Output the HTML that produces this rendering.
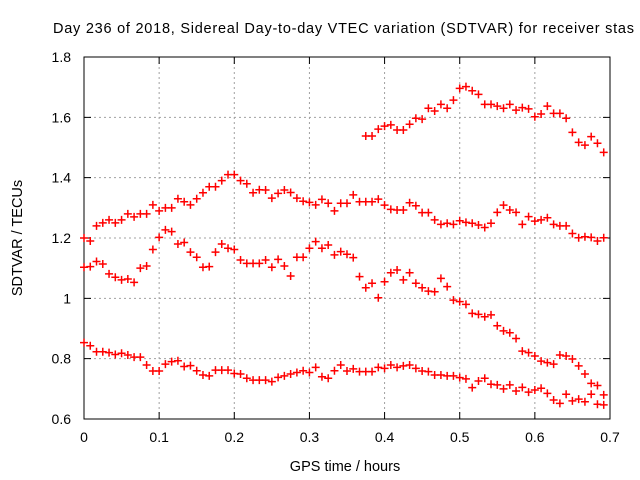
<!DOCTYPE html>
<html><head><meta charset="utf-8"><style>
body{margin:0;background:#fff;}
svg{display:block;font-family:"Liberation Sans",sans-serif;}
</style></head><body>
<svg id="chart" width="640" height="480" viewBox="0 0 640 480">
<rect width="640" height="480" fill="#fff"/>
<text x="53" y="33" font-size="14.5" textLength="581" lengthAdjust="spacing" fill="#000">Day 236 of 2018, Sidereal Day-to-day VTEC variation (SDTVAR) for receiver stas</text>
<text transform="translate(22,238) rotate(-90)" text-anchor="middle" font-size="14.5">SDTVAR / TECUs</text>
<text x="345" y="471" text-anchor="middle" font-size="14.5">GPS time / hours</text>
<g id="grid"></g><g id="axes"></g><g id="marks"></g>
</svg>
<script>
const xTicks=[0,0.1,0.2,0.3,0.4,0.5,0.6,0.7];
const yTicks=[0.6,0.8,1,1.2,1.4,1.6,1.8];
const yTickLabels=["0.6","0.8","1","1.2","1.4","1.6","1.8"];
const dt=0.008333;
const seriesA=[1.20,1.19,1.24,1.25,1.26,1.25,1.26,1.28,1.27,1.28,1.28,1.31,1.29,1.30,1.30,1.33,1.32,1.31,1.33,1.35,1.37,1.37,1.39,1.41,1.41,1.39,1.38,1.35,1.36,
1.359,1.332,1.348,1.359,1.351,1.332,1.322,1.318,1.310,1.328,1.315,1.290,1.315,1.315,
1.343,1.320,1.32,1.32,1.329,1.309,1.295,1.293,1.293,1.317,1.307,1.284,1.284,1.260,1.245,1.249,1.245,1.257,1.252,1.249,1.243,1.235,1.249,1.285,1.309,1.293,1.285,1.245,1.271,1.256,1.260,1.267,1.245,1.240,1.240,1.215,1.201,1.204,1.202,1.190,1.201];
const seriesTopStart=45;
const seriesTop=[1.538,1.538,1.561,1.571,1.575,1.558,1.558,1.577,1.597,1.594,1.630,1.621,1.643,1.630,1.657,1.696,1.702,1.688,1.676,1.643,1.643,1.637,1.630,1.643,1.624,1.632,1.628,1.602,1.611,1.637,1.613,1.613,1.597,1.550,1.517,1.508,1.536,1.514,1.484];
const seriesB=[1.103,1.105,1.122,1.114,1.081,1.070,1.061,1.064,1.053,1.100,1.107,1.162,1.202,1.227,1.221,1.180,1.185,1.153,1.136,1.103,1.105,1.153,1.180,1.166,1.162,1.127,1.116,1.116,1.116,
1.127,1.103,1.129,1.107,1.074,1.136,1.136,1.166,1.188,1.166,1.177,1.144,1.155,1.146,
1.135,1.072,1.035,1.050,1.002,1.055,1.085,1.094,1.061,1.085,1.050,1.035,1.024,1.022,1.066,1.039,0.994,0.989,0.980,0.950,0.947,0.939,0.945,0.909,0.892,0.886,0.867,0.825,0.820,0.809,0.792,0.787,0.782,0.812,0.809,0.799,0.776,0.749,0.718,0.711,0.680];
const seriesD=[0.853,0.843,0.823,0.823,0.820,0.814,0.818,0.812,0.805,0.805,0.779,0.759,0.759,0.782,0.790,0.793,0.774,0.777,0.760,0.746,0.743,0.762,0.762,0.762,0.751,0.749,0.735,0.729,0.729,
0.729,0.724,0.738,0.743,0.749,0.754,0.760,0.754,0.771,0.740,0.735,0.760,0.779,0.759,
0.766,0.757,0.757,0.757,0.771,0.768,0.779,0.771,0.776,0.779,0.768,0.759,0.757,0.746,0.746,0.743,0.743,0.737,0.733,0.704,0.726,0.735,0.715,0.713,0.700,0.713,0.693,0.705,0.689,0.696,0.702,0.685,0.663,0.652,0.682,0.660,0.666,0.657,0.682,0.649,0.647];

const L=84,R=610,T=57,B=419;
const X=v=>L+(v-0)/(0.7)*(R-L);
const Y=v=>B-(v-0.6)/(1.2)*(B-T);
const NS="http://www.w3.org/2000/svg";
function mk(tag,attrs,parent){const e=document.createElementNS(NS,tag);for(const k in attrs)e.setAttribute(k,attrs[k]);parent.appendChild(e);return e;}
const grid=document.getElementById('grid'),axes=document.getElementById('axes'),marks=document.getElementById('marks');
xTicks.forEach((t,i)=>{
  const x=X(t);
  if(i>0&&i<xTicks.length-1){const g=mk('line',{x1:x,x2:x,y1:T,y2:B,stroke:'#a0a0a0','stroke-dasharray':'2,3'},grid);
  
  }
  const tk=mk('path',{d:`M${x},${B}v-7M${x},${T}v7`,stroke:'#000','stroke-width':1},axes);
  
  
  const lb=mk('text',{x:x,y:442,'text-anchor':'middle','font-size':'14'},axes);
  lb.textContent=String(t);
  
  
});
yTicks.forEach((t,i)=>{
  const y=Y(t);
  if(i>0&&i<yTicks.length-1){const g=mk('line',{x1:L,x2:R,y1:y,y2:y,stroke:'#a0a0a0','stroke-dasharray':'2,3'},grid);
  
  }
  const tk=mk('path',{d:`M${L},${y}h7M${R},${y}h-7`,stroke:'#000','stroke-width':1},axes);
  
  
  const lb=mk('text',{x:71,y:y+5,'text-anchor':'end','font-size':'14'},axes);
  lb.textContent=yTickLabels[i];
  
  
});
const fr=mk('rect',{x:L,y:T,width:R-L,height:B-T,fill:'none',stroke:'#000','stroke-width':1},axes);


function plot(arr,start,name){
  const g=mk('g',{},marks);
  
  
  arr.forEach((v,i)=>{
    const x=X((start+i)*dt),y=Y(v);
    const p=mk('path',{d:`M${x-4},${y}h8M${x},${y-4}v8`,stroke:'#ff0000','stroke-width':1.5},g);
    
    
  });
}
plot(seriesD,0,'series-d');
plot(seriesB,0,'series-b');
plot(seriesA,0,'series-a');
plot(seriesTop,seriesTopStart,'series-top');
</script>
</body></html>
